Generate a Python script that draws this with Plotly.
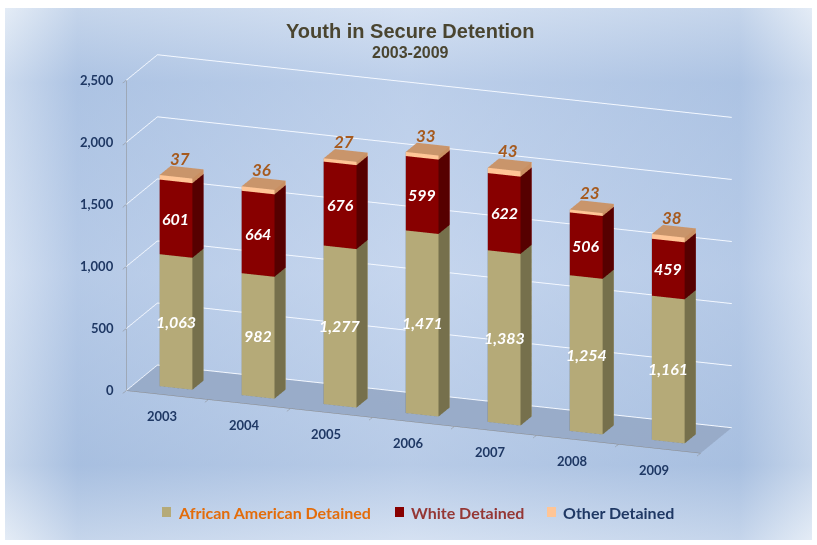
import base64
import plotly.graph_objects as go

# Youth held in secure detention, by race, 2003-2009
years = ["2003", "2004", "2005", "2006", "2007", "2008", "2009"]
african_american = [1063, 982, 1277, 1471, 1383, 1254, 1161]
white = [601, 664, 676, 599, 622, 506, 459]
other = [37, 36, 27, 33, 43, 23, 38]
value_ticks = [0, 500, 1000, 1500, 2000, 2500]

series_names = ["African American Detained", "White Detained", "Other Detained"]
series_values = [african_american, white, other]
# face colours: front, right side, top, left, back, bottom
series_faces = [
    ["#b5aa78", "#76704c", "#c9bf8f", "#76704c", "#b5aa78", "#76704c"],
    ["#880000", "#560000", "#a02020", "#560000", "#880000", "#560000"],
    ["#ffc596", "#c98f62", "#c9956b", "#c98f62", "#ffc596", "#c98f62"],
]
legend_swatch = ["#b5aa78", "#880000", "#ffc596"]
legend_text_color = ["#e36c0a", "#953735", "#1f3864"]

BAR_HALF = 0.2
Y0, Y1 = 0.28, 0.64
ZOOM = 1.42


def box_mesh(xc, z0, z1):
    x0, x1 = xc - BAR_HALF, xc + BAR_HALF
    vx = [x0, x1, x1, x0, x0, x1, x1, x0]
    vy = [Y0, Y0, Y1, Y1, Y0, Y0, Y1, Y1]
    vz = [z0, z0, z0, z0, z1, z1, z1, z1]
    tri = [
        (0, 1, 5), (0, 5, 4),  # front
        (1, 2, 6), (1, 6, 5),  # right
        (4, 5, 6), (4, 6, 7),  # top
        (0, 3, 7), (0, 7, 4),  # left
        (3, 2, 6), (3, 6, 7),  # back
        (0, 1, 2), (0, 2, 3),  # bottom
    ]
    return vx, vy, vz, tri


fig = go.Figure()
base = [0] * len(years)
annotations3d = []
label_font = dict(family="Lato", size=16, color="white", style="italic", weight="bold")
top_font = dict(family="Lato", size=17, color="#a65a1e", style="italic", weight="bold")
for s, (name, vals, faces) in enumerate(zip(series_names, series_values, series_faces)):
    X, Y, Z, I, J, K, FC = [], [], [], [], [], [], []
    for idx, v in enumerate(vals):
        z0 = base[idx]
        z1 = z0 + v
        vx, vy, vz, tri = box_mesh(idx, z0, z1)
        off = len(X)
        X += vx
        Y += vy
        Z += vz
        for t, (a, b, c) in enumerate(tri):
            I.append(a + off)
            J.append(b + off)
            K.append(c + off)
            FC.append(faces[t // 2])
        if s < 2:
            annotations3d.append(dict(x=idx, y=Y0, z=z0 + v / 2, text=f"{v:,}",
                                      showarrow=False, font=label_font))
        else:
            annotations3d.append(dict(x=idx, y=Y0, z=z1, text=f"{v:,}", showarrow=False,
                                      yshift=18, xshift=4, font=top_font))
        base[idx] = z1
    fig.add_trace(go.Mesh3d(
        x=X, y=Y, z=Z, i=I, j=J, k=K, facecolor=FC, flatshading=True,
        lighting=dict(ambient=1, diffuse=0, specular=0, roughness=1, fresnel=0),
        name=name, hoverinfo="skip", showscale=False,
    ))

axis_font = dict(family="Lato", size=13, color="#1f3864", weight="bold")
for idx, yr in enumerate(years):
    annotations3d.append(dict(x=idx, y=0, z=0, text=yr, showarrow=False,
                              yshift=-22, xshift=-5, font=axis_font))
for v in value_ticks:
    annotations3d.append(dict(x=-0.5, y=0, z=v, text=f"{v:,}", showarrow=False,
                              xanchor="right", xshift=-10, font=axis_font))

# bevelled blue backdrop
svg = """<svg xmlns='http://www.w3.org/2000/svg' width='817' height='545'>
<defs>
<linearGradient id='h' x1='0' y1='0' x2='1' y2='0'>
<stop offset='0' stop-color='#e4ecf6'/>
<stop offset='0.09' stop-color='#a6bee0'/>
<stop offset='0.5' stop-color='#c6d6ee'/>
<stop offset='0.91' stop-color='#a6bee0'/>
<stop offset='1' stop-color='#e4ecf6'/>
</linearGradient>
<linearGradient id='v' x1='0' y1='0' x2='0' y2='1'>
<stop offset='0' stop-color='#e4ecf6'/>
<stop offset='0.14' stop-color='#b3c8e6'/>
<stop offset='0.5' stop-color='#c6d6ee'/>
<stop offset='0.86' stop-color='#a9c0e0'/>
<stop offset='1' stop-color='#e4ecf6'/>
</linearGradient>
</defs>
<rect x='0' y='0' width='817' height='545' fill='#ffffff'/>
<rect x='5' y='8' width='807' height='532' fill='url(#h)'/>
<rect x='5' y='8' width='807' height='532' fill='url(#v)' opacity='0.5'/>
</svg>"""
bg_uri = "data:image/svg+xml;base64," + base64.b64encode(svg.encode()).decode()

fig.update_layout(
    width=817, height=545,
    margin=dict(l=0, r=0, t=0, b=0),
    paper_bgcolor="white",
    showlegend=False,
    images=[dict(source=bg_uri, xref="paper", yref="paper", x=0, y=1,
                 sizex=1, sizey=1, sizing="stretch", layer="below")],
    scene=dict(
        domain=dict(x=[0.05, 1.0], y=[0.115, 0.955]),
        aspectmode="manual",
        aspectratio=dict(x=1.88 * ZOOM, y=0.28 * ZOOM, z=1.0 * ZOOM),
        xaxis=dict(title="", range=[-0.5, 6.5], tickvals=[i - 0.5 for i in range(len(years) + 1)],
                   showticklabels=False, ticks="outside", ticklen=4, tickcolor="#8a8a8a",
                   showgrid=False, showbackground=False,
                   showline=True, linecolor="#8a8a8a", zeroline=False, showspikes=False),
        yaxis=dict(title="", range=[0, 1], showticklabels=False, showgrid=False,
                   showbackground=False, showline=False, zeroline=False,
                   showspikes=False, ticks=""),
        zaxis=dict(title="", range=[0, 2500], tickvals=value_ticks, showticklabels=False,
                   ticks="outside", ticklen=4, tickcolor="#8a8a8a",
                   showgrid=True, gridcolor="#f4f8ff", gridwidth=2,
                   showbackground=True, backgroundcolor="rgba(135,152,178,0.9)",
                   showline=True, linecolor="#8a8a8a", zeroline=False, showspikes=False),
        camera=dict(eye=dict(x=0.46, y=-1.26, z=0.42), up=dict(x=0, y=0, z=1),
                    center=dict(x=0, y=0, z=0), projection=dict(type="orthographic")),
        annotations=annotations3d,
        bgcolor="rgba(0,0,0,0)",
    ),
)

# title block
title_font = dict(family="Liberation Sans", color="#4a4530", weight="bold")
fig.add_annotation(x=0.503, y=1 - 31 / 545, xref="paper", yref="paper", showarrow=False,
                   yanchor="middle", text="Youth in Secure Detention",
                   font=dict(size=20, **title_font))
fig.add_annotation(x=0.503, y=1 - 52 / 545, xref="paper", yref="paper", showarrow=False,
                   yanchor="middle", text="2003-2009", font=dict(size=16, **title_font))

# legend drawn beneath the chart
legend_x = [176 / 817, 409 / 817, 561 / 817]
legend_y = 1 - 512 / 545
for name, sw, col, lx in zip(series_names, legend_swatch, legend_text_color, legend_x):
    fig.add_annotation(x=lx, y=legend_y, xref="paper", yref="paper", xanchor="left",
                       yanchor="middle", showarrow=False, text=name,
                       font=dict(family="Lato", size=16, color=col, weight="bold"))
    fig.add_shape(type="rect", xref="paper", yref="paper",
                  x0=lx - 14 / 817, x1=lx - 5 / 817,
                  y0=legend_y - 5 / 545, y1=legend_y + 5 / 545,
                  fillcolor=sw, line=dict(width=0))

fig.write_html("out.html", config=dict(displayModeBar=False))
